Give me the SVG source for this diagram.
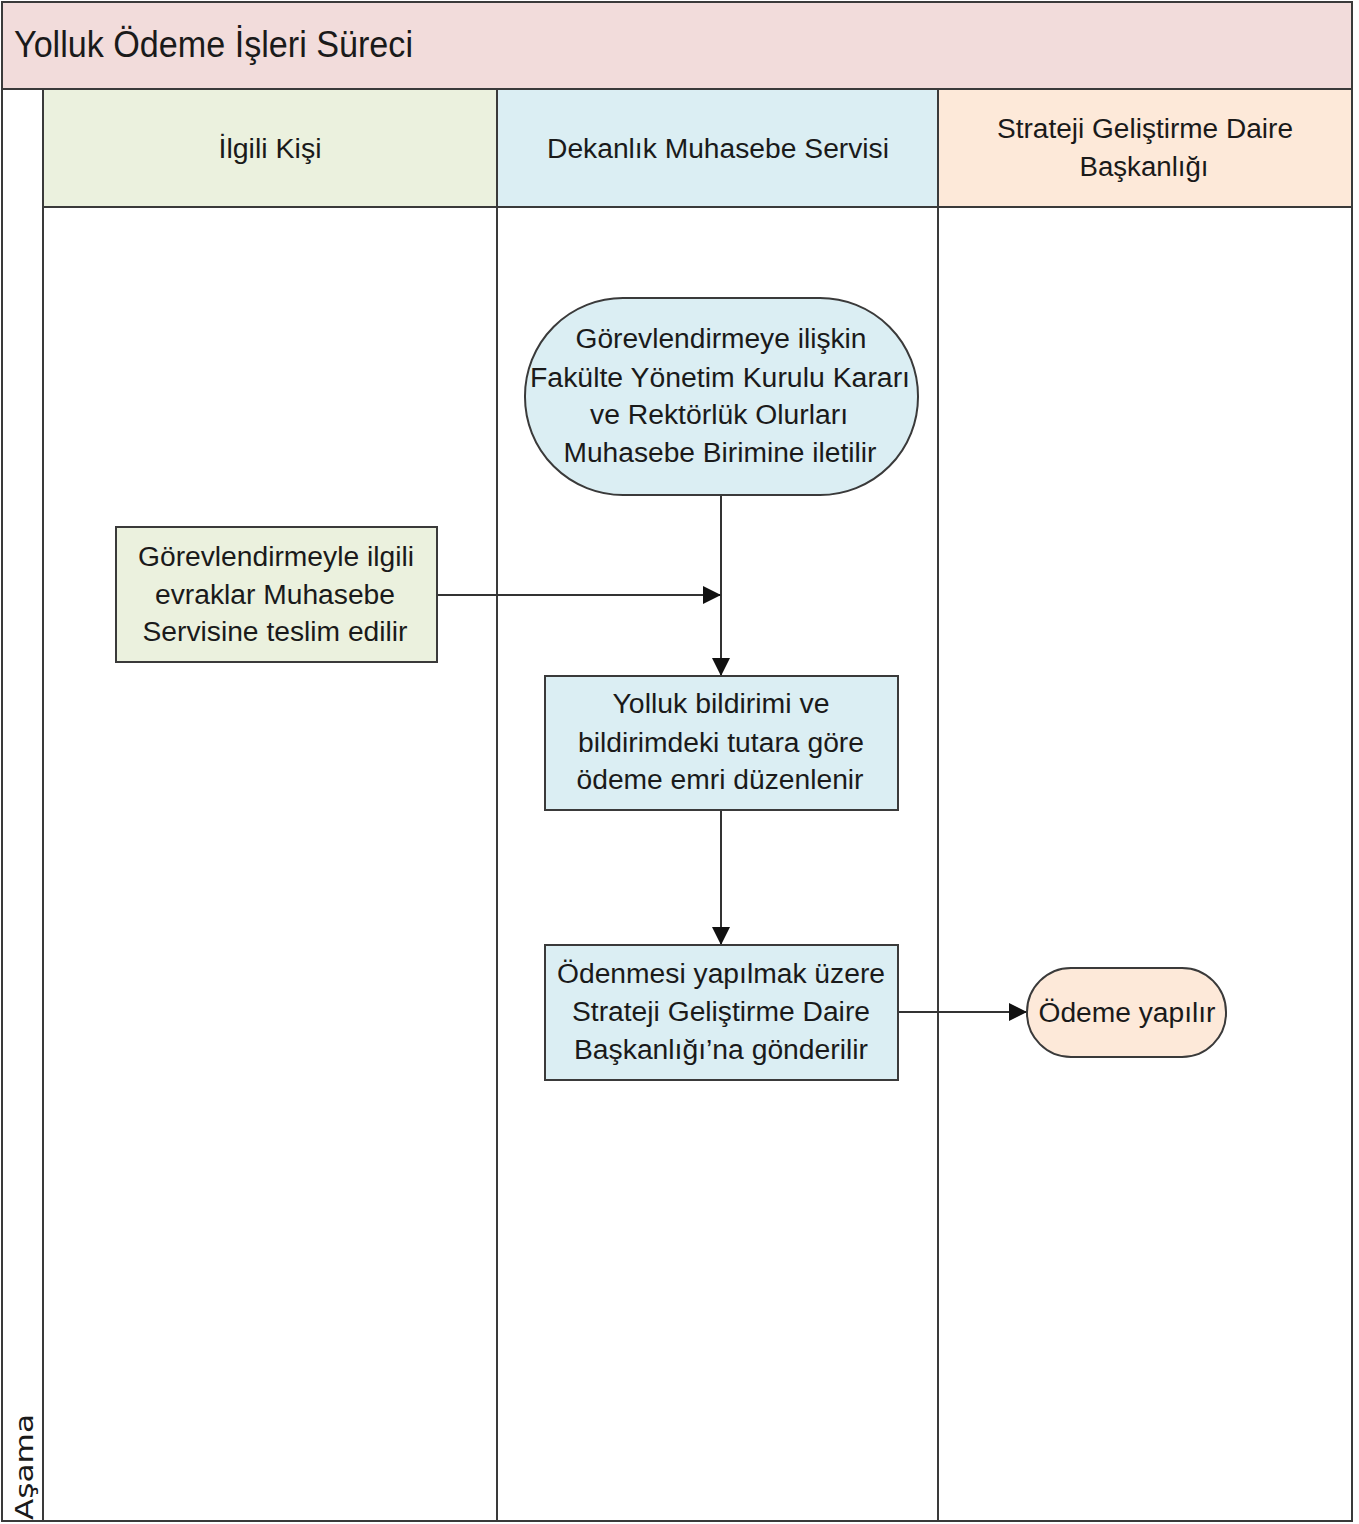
<svg xmlns="http://www.w3.org/2000/svg" width="1359" height="1524" viewBox="0 0 1359 1524">
  <style>
    .lane { stroke: #3a3a3a; stroke-width: 2; }
    .node { stroke: #3a3a3a; stroke-width: 2; }
    .t { font-family: "Liberation Sans", Arial, sans-serif; font-size: 27px; fill: #1a1a1a; text-anchor: middle; }
    .conn { stroke: #333; stroke-width: 2; fill: none; }
  </style>
  <defs>
    <marker id="arrowBig" viewBox="0 0 10 10" refX="10" refY="5" markerWidth="18" markerHeight="18" markerUnits="userSpaceOnUse" orient="auto">
      <path d="M0,0 L10,5 L0,10 z" fill="#111"/>
    </marker>
  </defs>

  <!-- pool frame and lanes -->
  <g id="pool">
    <rect x="0" y="0" width="1359" height="1524" fill="#ffffff"/>
    <rect x="2" y="2" width="1350" height="87" fill="#f2dcdb" class="lane"/>
    <text class="t" x="14" y="57" style="text-anchor:start;font-size:37px" textLength="399" lengthAdjust="spacingAndGlyphs">Yolluk Ödeme İşleri Süreci</text>
    <rect x="2" y="89" width="1350" height="1432" fill="#ffffff" class="lane"/>
    <rect x="43" y="89" width="454" height="118" fill="#ebf1de" class="lane"/>
    <rect x="497" y="89" width="441" height="118" fill="#dbeef3" class="lane"/>
    <rect x="938" y="89" width="414" height="118" fill="#fde9d9" class="lane"/>
    <line class="lane" x1="43" y1="207" x2="43" y2="1521"/>
    <line class="lane" x1="497" y1="207" x2="497" y2="1521"/>
    <line class="lane" x1="938" y1="207" x2="938" y2="1521"/>
    <text class="t" x="270" y="158" textLength="103" lengthAdjust="spacingAndGlyphs">İlgili Kişi</text>
    <text class="t" x="718" y="158" textLength="342" lengthAdjust="spacingAndGlyphs">Dekanlık Muhasebe Servisi</text>
    <text class="t" x="1145" y="138" textLength="296" lengthAdjust="spacingAndGlyphs">Strateji Geliştirme Daire</text>
    <text class="t" x="1144" y="176" textLength="129" lengthAdjust="spacingAndGlyphs">Başkanlığı</text>
    <text class="t" transform="translate(33,1467) rotate(-90)" style="font-family:'DejaVu Sans',sans-serif;font-size:24px" textLength="106" lengthAdjust="spacingAndGlyphs">Aşama</text>
  </g>

  <!-- connectors -->
  <g id="connectors">
    <line class="conn" x1="721" y1="495" x2="721" y2="676" marker-end="url(#arrowBig)"/>
    <line class="conn" x1="437" y1="595" x2="721" y2="595" marker-end="url(#arrowBig)"/>
    <line class="conn" x1="721" y1="810" x2="721" y2="945" marker-end="url(#arrowBig)"/>
    <line class="conn" x1="898" y1="1012" x2="1027" y2="1012" marker-end="url(#arrowBig)"/>
  </g>

  <g id="n1">
    <rect class="node" x="525" y="298" width="393" height="197" rx="98" ry="98" fill="#dbeef3"/>
    <text class="t" x="721" y="348" textLength="291" lengthAdjust="spacingAndGlyphs">Görevlendirmeye ilişkin</text>
    <text class="t" x="720" y="387" textLength="380" lengthAdjust="spacingAndGlyphs">Fakülte Yönetim Kurulu Kararı</text>
    <text class="t" x="719" y="424" textLength="258" lengthAdjust="spacingAndGlyphs">ve Rektörlük Olurları</text>
    <text class="t" x="720" y="462" textLength="313" lengthAdjust="spacingAndGlyphs">Muhasebe Birimine iletilir</text>
  </g>

  <g id="n2">
    <rect class="node" x="116" y="527" width="321" height="135" fill="#ebf1de"/>
    <text class="t" x="276" y="566" textLength="276" lengthAdjust="spacingAndGlyphs">Görevlendirmeyle ilgili</text>
    <text class="t" x="275" y="604" textLength="240" lengthAdjust="spacingAndGlyphs">evraklar Muhasebe</text>
    <text class="t" x="275" y="641" textLength="265" lengthAdjust="spacingAndGlyphs">Servisine teslim edilir</text>
  </g>

  <g id="n3">
    <rect class="node" x="545" y="676" width="353" height="134" fill="#dbeef3"/>
    <text class="t" x="721" y="713" textLength="217" lengthAdjust="spacingAndGlyphs">Yolluk bildirimi ve</text>
    <text class="t" x="721" y="752" textLength="286" lengthAdjust="spacingAndGlyphs">bildirimdeki tutara göre</text>
    <text class="t" x="720" y="789" textLength="287" lengthAdjust="spacingAndGlyphs">ödeme emri düzenlenir</text>
  </g>

  <g id="n4">
    <rect class="node" x="545" y="945" width="353" height="135" fill="#dbeef3"/>
    <text class="t" x="721" y="983" textLength="328" lengthAdjust="spacingAndGlyphs">Ödenmesi yapılmak üzere</text>
    <text class="t" x="721" y="1021" textLength="298" lengthAdjust="spacingAndGlyphs">Strateji Geliştirme Daire</text>
    <text class="t" x="721" y="1059" textLength="294" lengthAdjust="spacingAndGlyphs">Başkanlığı’na gönderilir</text>
  </g>

  <g id="n5">
    <rect class="node" x="1027" y="968" width="199" height="89" rx="44" ry="44" fill="#fde9d9"/>
    <text class="t" x="1127" y="1022" textLength="177" lengthAdjust="spacingAndGlyphs">Ödeme yapılır</text>
  </g>
</svg>
